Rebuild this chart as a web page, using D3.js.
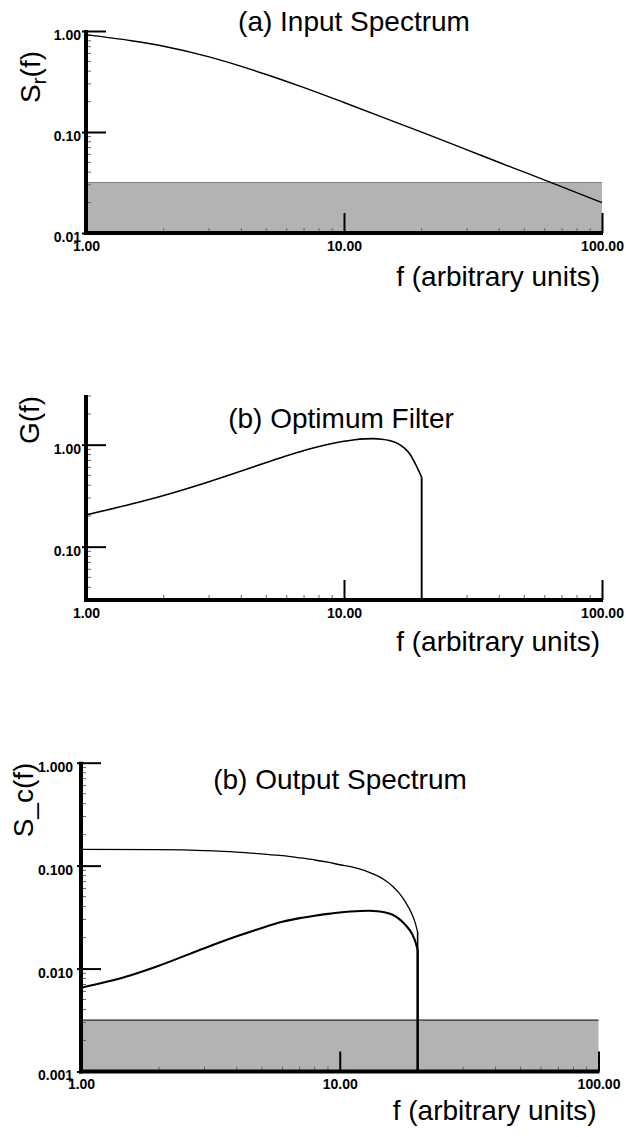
<!DOCTYPE html>
<html>
<head>
<meta charset="utf-8">
<script src="https://cdn.jsdelivr.net/npm/d3@7"></script>
<style>
  html, body { margin: 0; padding: 0; background: #fff; }
  svg { display: block; }
  text { font-family: "Liberation Sans", Arial, Helvetica, sans-serif; fill: #000; }
  .big { font-size: 28px; }
</style>
</head>
<body>
<svg id="chart" width="626" height="1137"></svg>
<script>
// ---- data ----------------------------------------------------------------
// (a) input spectrum S_r(f)
const freqInput = [1, 1.5, 2, 3, 4, 5, 7, 10, 15, 20, 30, 40, 50, 70, 100];
const inputSpectrum = [0.92, 0.80, 0.707, 0.555, 0.447, 0.371, 0.275, 0.196, 0.132, 0.0995, 0.0665, 0.0499, 0.040, 0.0286, 0.020];
const noiseLevelInput = 0.0316;

// (b) optimum filter G(f); it falls to zero at the cut-off frequency
const freqFilter = [1, 1.5, 2, 3, 4, 5, 6, 7, 8, 9, 10, 11, 12, 13, 14, 15, 16, 17, 18, 19, 19.5, 20, 20];
const optimumFilter = [0.205, 0.262, 0.318, 0.434, 0.552, 0.668, 0.778, 0.877, 0.959, 1.028, 1.081, 1.119, 1.140, 1.146, 1.132, 1.099, 1.038, 0.942, 0.811, 0.632, 0.55, 0.48, 0];

// (c) output spectra S_c(f)
const freqOutput = [1, 2, 3, 4, 5, 6, 7, 8, 9, 10, 11, 12, 13, 14, 15, 16, 17, 18, 19, 19.6, 20, 20];
const outputUpper = [0.144, 0.143, 0.140, 0.1355, 0.130, 0.125, 0.119, 0.1135, 0.108, 0.102, 0.0977, 0.0923, 0.0861, 0.0794, 0.0716, 0.0631, 0.0537, 0.0437, 0.0339, 0.0275, 0.0226, 0];
const freqOutputLow = [1, 1.5, 2, 3, 4, 5, 6, 7, 8, 9, 10, 11, 12, 13, 14, 15, 16, 17, 18, 19, 19.6, 20, 20];
const outputLower = [0.00652, 0.00838, 0.01067, 0.01578, 0.02056, 0.02483, 0.02851, 0.0309, 0.0326, 0.0340, 0.0351, 0.0358, 0.0363, 0.0365, 0.0361, 0.0350, 0.0333, 0.0302, 0.0263, 0.0219, 0.0182, 0.0151, 0];
const noiseLevelOutput = 0.00316;

// axis ticks
const xTicks = [1, 10, 100];
const xTickLabels = ["1.00", "10.00", "100.00"];
const yTicksInput = [1, 0.1, 0.01];
const yTickLabelsInput = ["1.00", "0.10", "0.01"];
const yTicksFilter = [1, 0.1];
const yTickLabelsFilter = ["1.00", "0.10"];
const yTicksOutput = [1, 0.1, 0.01, 0.001];
const yTickLabelsOutput = ["1.000", "0.100", "0.010", "0.001"];

const titles = ["(a) Input Spectrum", "(b) Optimum Filter", "(b) Output Spectrum"];
const xTitle = "f (arbitrary units)";

// ---- layout --------------------------------------------------------------
const panels = [
  { x0: 86, x1: 602, yTop: 31, yBot: 233, yDomain: [0.01, 1],
    yTicks: yTicksInput, yLabels: yTickLabelsInput, labelPad: 5,
    title: titles[0], titleX: 354, titleY: 31,
    yTitle: "S", yTitleSub: "r", yTitleRest: "(f)", yTitleX: 30, yTitleY: 77,
    xTitleY: 286,
    shade: noiseLevelInput, shadeStroke: "#808080",
    series: [{ f: freqInput, v: inputSpectrum, w: 1.4 }] },
  { x0: 86, x1: 602, yTop: 396, yBot: 600, yDomain: [0.03, 3],
    yTicks: yTicksFilter, yLabels: yTickLabelsFilter, labelPad: 5,
    title: titles[1], titleX: 341, titleY: 428,
    yTitle: "G(f)", yTitleX: 29, yTitleY: 420,
    xTitleY: 651,
    shade: null,
    series: [{ f: freqFilter, v: optimumFilter, w: 1.6 }] },
  { x0: 81, x1: 598.5, yTop: 762.7, yBot: 1071.5, yDomain: [0.001, 1],
    yTicks: yTicksOutput, yLabels: yTickLabelsOutput, labelPad: 8,
    title: titles[2], titleX: 340, titleY: 789,
    yTitle: "S_c(f)", yTitleX: 23, yTitleY: 800,
    xTitleY: 1120,
    shade: noiseLevelOutput, shadeStroke: "#000",
    series: [{ f: freqOutput, v: outputUpper, w: 1.3 },
             { f: freqOutputLow, v: outputLower, w: 2.1 }] }
];

const svg = d3.select("#chart");

panels.forEach(p => {
  const x = d3.scaleLog().domain([1, 100]).range([p.x0, p.x1]);
  const y = d3.scaleLog().domain(p.yDomain).range([p.yBot, p.yTop]);
  const g = svg.append("g");

  // noise floor band
  if (p.shade) {
    g.append("rect")
      .attr("x", x(1)).attr("width", x(100) - x(1))
      .attr("y", y(p.shade)).attr("height", y(p.yDomain[0]) - y(p.shade))
      .attr("fill", "#b3b3b3");
    g.append("line")
      .attr("x1", x(1)).attr("x2", x(100))
      .attr("y1", y(p.shade)).attr("y2", y(p.shade))
      .attr("stroke", p.shadeStroke).attr("stroke-width", 1);
  }

  // minor ticks (2..9 within each decade)
  const minorX = [];
  for (let d = 1; d < 100; d *= 10) for (let k = 2; k <= 9; k++) minorX.push(d * k);
  g.selectAll(".mx").data(minorX).join("line")
    .attr("x1", d => x(d)).attr("x2", d => x(d))
    .attr("y1", p.yBot).attr("y2", p.yBot - 5)
    .attr("stroke", "#666").attr("stroke-width", 1);

  const minorY = [];
  const lo = Math.floor(Math.log10(p.yDomain[0])), hi = Math.ceil(Math.log10(p.yDomain[1]));
  for (let e = lo; e < hi; e++) for (let k = 2; k <= 9; k++) {
    const v = k * Math.pow(10, e);
    if (v >= p.yDomain[0] * 0.999 && v <= p.yDomain[1] * 1.001) minorY.push(v);
  }
  g.selectAll(".my").data(minorY).join("line")
    .attr("x1", p.x0).attr("x2", p.x0 + 5)
    .attr("y1", d => y(d)).attr("y2", d => y(d))
    .attr("stroke", "#666").attr("stroke-width", 1);

  // curves
  const line = d3.line()
    .x(d => x(d[0]))
    .y(d => y(Math.max(d[1], p.yDomain[0])))
    .curve(d3.curveMonotoneX);
  const drop = d3.line()
    .x(d => x(d[0]))
    .y(d => y(Math.max(d[1], p.yDomain[0])));
  p.series.forEach(s => {
    const pts = s.f.map((f, i) => [f, s.v[i]]);
    const smooth = pts.filter(d => d[1] > 0);
    g.append("path").attr("d", line(smooth))
      .attr("fill", "none").attr("stroke", "#000").attr("stroke-width", s.w)
      .attr("stroke-linejoin", "round");
    const zeros = pts.filter(d => d[1] <= 0);
    if (zeros.length) {
      g.append("path").attr("d", drop([smooth[smooth.length - 1], zeros[0]]))
        .attr("fill", "none").attr("stroke", "#000").attr("stroke-width", s.w + 0.3);
    }
  });

  // major y ticks + labels
  const yAxis = d3.axisLeft(y).tickValues(p.yTicks)
    .tickFormat((d, i) => p.yLabels[i]).tickSize(-20).tickPadding(p.labelPad);
  const ya = g.append("g").attr("transform", `translate(${p.x0},0)`).call(yAxis)
    .attr("font-family", null).attr("font-size", null);
  ya.select(".domain").remove();
  ya.selectAll(".tick line").attr("x1", -4).attr("x2", 20).attr("stroke", "#000").attr("stroke-width", 2);
  ya.selectAll(".tick text").attr("x", -p.labelPad).attr("y", 4)
    .attr("font-size", 14).attr("font-weight", "bold").attr("fill", "#000");

  // major x ticks + labels
  const xAxis = d3.axisBottom(x).tickValues(xTicks)
    .tickFormat((d, i) => xTickLabels[i]).tickSize(-20).tickPadding(8);
  const xa = g.append("g").attr("transform", `translate(0,${p.yBot})`).call(xAxis)
    .attr("font-family", null).attr("font-size", null);
  xa.select(".domain").remove();
  xa.selectAll(".tick line").attr("stroke", "#000").attr("stroke-width", 2)
    .attr("display", d => d === 1 ? "none" : null);
  xa.selectAll(".tick text")
    .attr("font-size", 14).attr("font-weight", "bold").attr("fill", "#000");

  // heavy axis lines
  g.append("line").attr("x1", p.x0).attr("x2", p.x0)
    .attr("y1", p.yTop - 1).attr("y2", p.yBot + 2)
    .attr("stroke", "#000").attr("stroke-width", 4);
  g.append("line").attr("x1", p.x0 - 2).attr("x2", p.x1 + 1)
    .attr("y1", p.yBot).attr("y2", p.yBot)
    .attr("stroke", "#000").attr("stroke-width", 4);

  // titles
  g.append("text").attr("class", "big")
    .attr("x", p.titleX).attr("y", p.titleY).attr("text-anchor", "middle")
    .text(p.title);
  g.append("text").attr("class", "big")
    .attr("x", p.x1 - 2).attr("y", p.xTitleY).attr("text-anchor", "end")
    .text(xTitle);

  const yt = g.append("text").attr("class", "big")
    .attr("transform", `translate(${p.yTitleX},${p.yTitleY}) rotate(-90)`)
    .attr("text-anchor", "middle").attr("dy", "0.35em");
  if (p.yTitleSub) {
    yt.append("tspan").text(p.yTitle);
    yt.append("tspan").attr("font-size", "21px").attr("dy", "6").text(p.yTitleSub);
    yt.append("tspan").attr("dy", "-6").text(p.yTitleRest);
  } else {
    yt.text(p.yTitle);
  }
});
</script>
</body>
</html>
